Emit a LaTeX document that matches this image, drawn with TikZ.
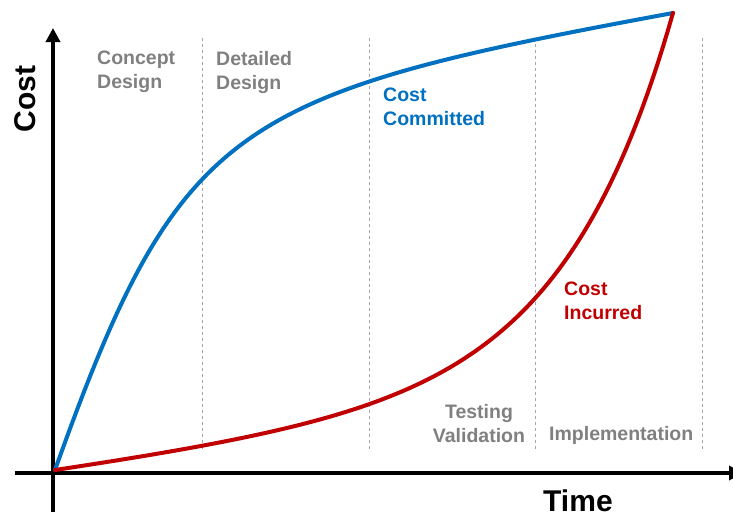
\documentclass[tikz,border=0pt]{standalone}
\usepackage{fontspec}
\setmainfont{Liberation Sans}
\usetikzlibrary{arrows.meta}

\definecolor{committed}{RGB}{0,112,192}
\definecolor{incurred}{RGB}{192,0,0}
\definecolor{phasegray}{RGB}{128,128,128}

\begin{document}
\begin{tikzpicture}[x=1pt, y=-1pt,
  axis/.style={line width=4pt, -{Triangle[length=14pt,width=14pt]}},
  divider/.style={draw=gray!70, line width=0.8pt, dash pattern=on 3pt off 3pt},
  curve/.style={line width=4pt, line join=round, line cap=round},
  phaselabel/.style={text=phasegray, font=\fontsize{19.5}{24}\selectfont\bfseries, align=left, inner sep=0pt},
  axislabel/.style={font=\fontsize{30}{36}\selectfont\bfseries, inner sep=0pt}]
  \useasboundingbox (0,0) rectangle (733,517);

  \coordinate (O)  at (55,470);
  \coordinate (E)  at (673,13);
  \coordinate (Y0) at (53,512);
  \coordinate (Y1) at (53,28);
  \coordinate (X0) at (15,473);
  \coordinate (X1) at (743,473);

  \foreach \x in {202,369,535,702}
    \draw [divider] (\x,38) -- (\x,452);

  \draw [axis] (Y0) -- (Y1);
  \draw [axis] (X0) -- (X1);

  \draw [curve, committed] (O) .. controls (180,120) and (235,94) .. (E);
  \draw [curve, incurred] plot [domain=0:618, samples=120]
    ({55+\x}, {470 - 0.139*\x - 1.353*(exp(\x/110)-1)});

  \node [phaselabel, anchor=north west] (concept)  at (97,51)  {Concept\\Design};
  \node [phaselabel, anchor=north west] (detailed) at (216,51) {Detailed\\Design};
  \node [phaselabel, anchor=north, align=center] (testing) at (479,404) {Testing\\Validation};
  \node [phaselabel, anchor=north west] (impl) at (549,426) {Implementation};

  \node [phaselabel, text=committed, anchor=north west] (commit) at (383,88) {Cost\\Committed};
  \node [phaselabel, text=incurred, anchor=north west] (incur) at (564,282) {Cost\\Incurred};

  \node [axislabel, anchor=base west] (time) at (543,511) {Time};
  \node [axislabel, rotate=90] (cost) at (25,99) {Cost};
\end{tikzpicture}
\end{document}
